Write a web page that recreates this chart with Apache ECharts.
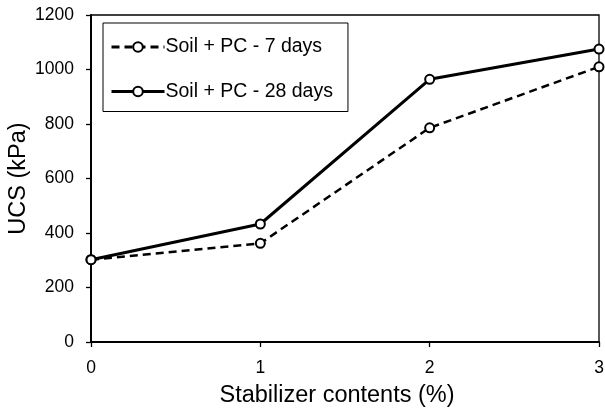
<!DOCTYPE html>
<html>
<head>
<meta charset="utf-8">
<script src="https://cdn.jsdelivr.net/npm/echarts@6/dist/echarts.min.js"></script>
<style>
html,body{margin:0;padding:0;background:#fff;}
#c{width:605px;height:410px;}
</style>
</head>
<body>
<div id="c"></div>
<script>
var xValues = [0, 1, 2, 3];
var ucs7 = [302, 362, 786, 1010];
var ucs28 = [302, 433, 964, 1075];
var seriesNames = ['Soil + PC - 7 days', 'Soil + PC - 28 days'];
var xTitle = 'Stabilizer contents (%)';
var yTitle = 'UCS (kPa)';

function pairs(xs, ys){ return xs.map(function(x,i){ return [x, ys[i]]; }); }

var FONT = '"Liberation Sans", Arial, sans-serif';
var chart = echarts.init(document.getElementById('c'), null, {renderer:'canvas'});
chart.setOption({
  animation: false,
  backgroundColor: '#fff',
  grid: {left: 91, right: 6, top: 15, bottom: 68, outerBoundsMode: 'none', containLabel: false,
         show: true, borderColor: '#000', borderWidth: 1.3, backgroundColor: 'transparent'},
  legend: {
    left: 103, top: 23,
    orient: 'vertical',
    padding: [14, 15, 10, 7],
    itemGap: 24.5,
    itemWidth: 53, itemHeight: 12,
    borderColor: '#000', borderWidth: 1,
    lineStyle: {width: 3},
    textStyle: {fontFamily: FONT, fontSize: 19.5, color: '#000', padding: [0,0,0,-4]},
    data: seriesNames
  },
  xAxis: {
    type: 'value', min: 0, max: 3, interval: 1,
    axisLine: {show: true, lineStyle: {color: '#000', width: 2}},
    axisTick: {show: true, inside: false, length: 5, lineStyle: {color: '#000', width: 1.3}},
    axisLabel: {fontFamily: FONT, fontSize: 17.5, color: '#000', margin: 17, formatter: function(v){ return String(v); }},
    splitLine: {show: false}
  },
  yAxis: {
    type: 'value', min: 0, max: 1200, interval: 200,
    name: yTitle, nameLocation: 'middle', nameGap: 60, nameMoveOverlap: false,
    nameTextStyle: {fontFamily: FONT, fontSize: 23.5, color: '#000'},
    axisLine: {show: true, lineStyle: {color: '#000', width: 2}},
    axisTick: {show: true, inside: false, length: 5, lineStyle: {color: '#000', width: 1.3}},
    axisLabel: {fontFamily: FONT, fontSize: 17.5, color: '#000', margin: 17, formatter: function(v){ return String(v); }},
    splitLine: {show: false}
  },
  graphic: [{
    type: 'text', x: 337, y: 396,
    style: {text: xTitle, font: '23.5px ' + FONT, fill: '#000', align: 'center', verticalAlign: 'middle'}
  }],
  series: [
    {
      name: seriesNames[0], type: 'line', data: pairs(xValues, ucs7),
      symbol: 'circle', symbolSize: 9, z: 2,
      lineStyle: {color: '#000', width: 2.5, type: [8, 5]},
      itemStyle: {color: '#fff', borderColor: '#000', borderWidth: 2}
    },
    {
      name: seriesNames[1], type: 'line', data: pairs(xValues, ucs28),
      symbol: 'circle', symbolSize: 9, z: 3,
      lineStyle: {color: '#000', width: 3, type: 'solid'},
      itemStyle: {color: '#fff', borderColor: '#000', borderWidth: 2}
    }
  ]
});
</script>
</body>
</html>
